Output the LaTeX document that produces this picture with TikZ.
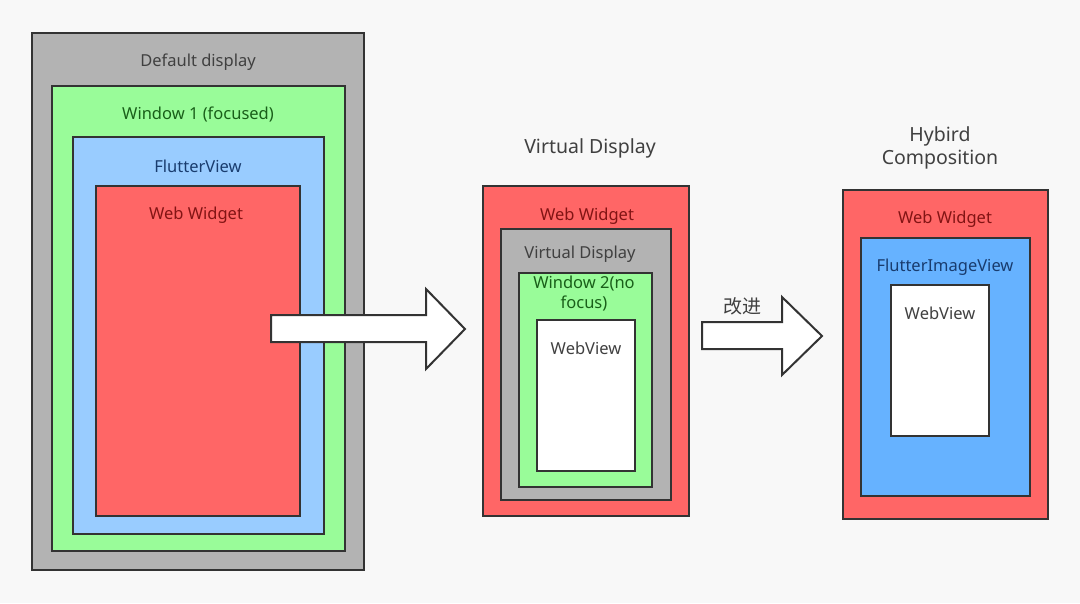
\documentclass[tikz,border=0pt]{standalone}
\usepackage{fontspec}
\setmainfont{Noto Sans}
\newfontfamily\cjk{Noto Sans CJK SC}
\usetikzlibrary{positioning}
\definecolor{bgcol}{RGB}{248,248,248}
\definecolor{linecol}{RGB}{51,51,51}
\definecolor{graybox}{RGB}{179,179,179}
\definecolor{greenbox}{RGB}{153,252,153}
\definecolor{lightblue}{RGB}{153,204,255}
\definecolor{redbox}{RGB}{255,102,102}
\definecolor{bluebox}{RGB}{102,178,255}
\definecolor{graytext}{RGB}{64,64,64}
\definecolor{greentext}{RGB}{25,95,25}
\definecolor{bluetext}{RGB}{25,60,110}
\definecolor{redtext}{RGB}{130,20,20}

\begin{document}
\begin{tikzpicture}[x=1pt,y=-1pt,
    box/.style={draw=linecol,line width=2pt},
    lbl/.style={font=\fontsize{16.5}{19}\selectfont},
    ttl/.style={font=\fontsize{19.5}{23}\selectfont,text=graytext,align=center}]
      \fill[bgcol] (0,0) rectangle (1080,603);

      % left: default display
      \draw[box,fill=graybox] (32,33) rectangle (364,570);
      \node[lbl,text=graytext] (dd) at (198,62) {Default display};
      \draw[box,fill=greenbox] (52,86) rectangle (345,551);
      \node[lbl,text=greentext] (win1) at (198,114) {Window 1 (focused)};
      \draw[box,fill=lightblue] (73,137) rectangle (324,534);
      \node[lbl,text=bluetext] (fv) at (198,166) {FlutterView};
      \draw[box,fill=redbox] (96,186) rectangle (300,516);
      \node[lbl,text=redtext] (ww1) at (196,215) {Web Widget};

      \draw[box,fill=white] (271,315) -- (426,315) -- (426,289) -- (465,329)
        -- (426,369) -- (426,342) -- (271,342) -- cycle;

      % middle: virtual display
      \node[ttl] (vdt) at (590,148) {Virtual Display};
      \draw[box,fill=redbox] (483,186) rectangle (689,516);
      \node[lbl,text=redtext] (ww2) at (587,216) {Web Widget};
      \draw[box,fill=graybox] (501,229) rectangle (671,500);
      \node[lbl,text=graytext] (vd) at (580,254) {Virtual Display};
      \draw[box,fill=greenbox] (519,273) rectangle (652,487);
      \node[lbl,text=greentext,align=center,font=\fontsize{16.5}{20}\selectfont] (win2) at (584,294) {Window 2(no\\focus)};
      \draw[box,fill=white] (537,320) rectangle (635,471);
      \node[lbl,text=graytext] (wv2) at (586,348) {WebView};

      % 改进
      \draw[box,fill=white] (702,322) -- (782,322) -- (782,297) -- (822,336)
        -- (782,375) -- (782,349) -- (702,349) -- cycle;
      \node[font=\cjk\fontsize{19}{22}\selectfont,text=graytext] (gj) at (742,306) {改进};

      % right: hybird composition
      \node[ttl] (hct) at (940,148) {Hybird\\Composition};
      \draw[box,fill=redbox] (843,190) rectangle (1048,519);
      \node[lbl,text=redtext] (ww3) at (945,219) {Web Widget};
      \draw[box,fill=bluebox] (861,238) rectangle (1030,496);
      \node[lbl,text=bluetext] (fiv) at (945,267) {FlutterImageView};
      \draw[box,fill=white] (891,285) rectangle (989,436);
      \node[lbl,text=graytext] (wv3) at (940,313) {WebView};
\end{tikzpicture}
\end{document}
